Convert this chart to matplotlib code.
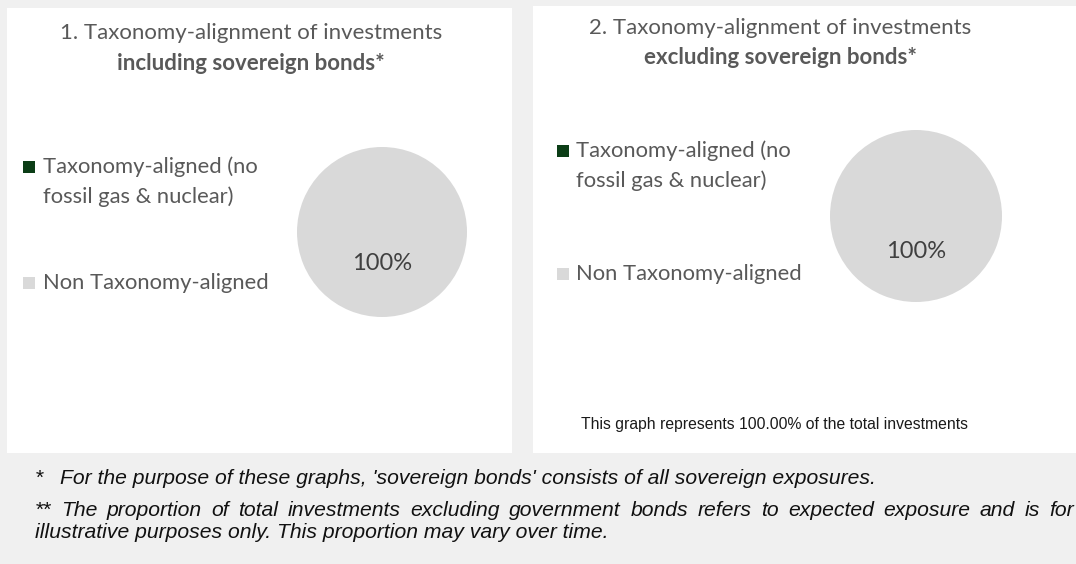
import matplotlib
matplotlib.use("Agg")
import matplotlib.pyplot as plt
from matplotlib.patches import Rectangle

# --- Chart data ---
W, H = 1076, 564
categories = ["Taxonomy-aligned (no\nfossil gas & nuclear)", "Non Taxonomy-aligned"]
incl_sovereign = [0, 100]   # % of investments, graph 1
excl_sovereign = [0, 100]   # % of investments, graph 2
colors = ["#0b3d16", "#d9d9d9"]
title_lines = [("1. Taxonomy-alignment of investments", "including sovereign bonds*"),
               ("2. Taxonomy-alignment of investments", "excluding sovereign bonds*")]
coverage_note = "This graph represents 100.00% of the total investments"
note_star = "For the purpose of these graphs, 'sovereign bonds' consists of all sovereign exposures."
note_2star = ("The proportion of total investments excluding government bonds refers to "
              "expected exposure and is for")
note_2star_end = "illustrative purposes only. This proportion may vary over time."

TXT = "#595959"
CAL = ["Lato", "DejaVu Sans"]
ARIAL = ["Liberation Sans", "DejaVu Sans"]


def fx(x):
    return x / W


def fy(y):
    return 1 - y / H


def px_text(x, y, s, **kw):
    kw.setdefault("va", "center")
    return fig.text(fx(x), fy(y), s, **kw)


fig = plt.figure(figsize=(W / 100, H / 100), dpi=100, facecolor="#f0f0f0")
renderer = fig.canvas.get_renderer()

# white chart panels (x0, y0, x1, y1 in pixels), kept behind the pies
for x0, y0, x1, y1 in [(7, 8, 512, 453), (533, 6, 1076, 453)]:
    fig.patches.append(Rectangle((fx(x0), fy(y1)), (x1 - x0) / W, (y1 - y0) / H,
                                 transform=fig.transFigure, facecolor="white",
                                 edgecolor="none", zorder=-5))

# --- per-panel layout: title centre, pie centre/radius, legend positions ---
panels = [
    dict(values=incl_sovereign, titles=title_lines[0], tx=251, ty=(33, 64),
         cx=382, cy=232, r=85, pct=0.37,
         sq_x=23, lx=43, ly=(167, 283)),
    dict(values=excl_sovereign, titles=title_lines[1], tx=780, ty=(28, 57),
         cx=916, cy=216, r=86, pct=0.41,
         sq_x=557, lx=576, ly=(151, 274)),
]

for p in panels:
    px_text(p["tx"], p["ty"][0], p["titles"][0], ha="center", color=TXT,
            fontsize=16, family=CAL)
    px_text(p["tx"], p["ty"][1], p["titles"][1], ha="center", color=TXT,
            fontsize=16, family=CAL, weight="bold")

    r = p["r"]
    ax = fig.add_axes([fx(p["cx"] - r), fy(p["cy"] + r), 2 * r / W, 2 * r / H])
    ax.pie(p["values"], colors=colors, startangle=90, counterclock=False,
           autopct=lambda v: f"{v:.0f}%" if v > 0 else "",
           pctdistance=p["pct"],
           textprops=dict(color="#404040", fontsize=17, family=CAL))
    ax.set_xlim(-1, 1)
    ax.set_ylim(-1, 1)
    ax.axis("off")

    # legend: square next to the first line of each label
    for lab, col, y in zip(categories, colors, p["ly"]):
        fig.patches.append(Rectangle((fx(p["sq_x"]), fy(y + 6)), 12 / W, 12 / H,
                                     transform=fig.transFigure, facecolor=col,
                                     edgecolor="none", zorder=2))
        for i, line in enumerate(lab.split("\n")):
            px_text(p["lx"], y + i * 30, line, color=TXT, fontsize=15.8, family=CAL)

px_text(581, 425, coverage_note, color="#1a1a1a", fontsize=11.3, family=ARIAL)

# --- footnotes ---
FN = dict(color="#111111", fontsize=15.2, family=ARIAL, style="italic")
px_text(35, 478, "*", **FN)
px_text(60, 478, note_star, **FN)
px_text(35, 533, note_2star_end, **FN)

# justified line for the ** note
words = ["**"] + note_2star.split()
objs = [px_text(0, 510, w, **FN) for w in words]
widths = [o.get_window_extent(renderer).width for o in objs]
left, right = 35, 1074
gap = (right - left - sum(widths)) / (len(words) - 1)
x = left
for o, w in zip(objs, widths):
    o.set_x(fx(x))
    x += w + gap

fig.savefig("out.png", dpi=100, facecolor=fig.get_facecolor())
